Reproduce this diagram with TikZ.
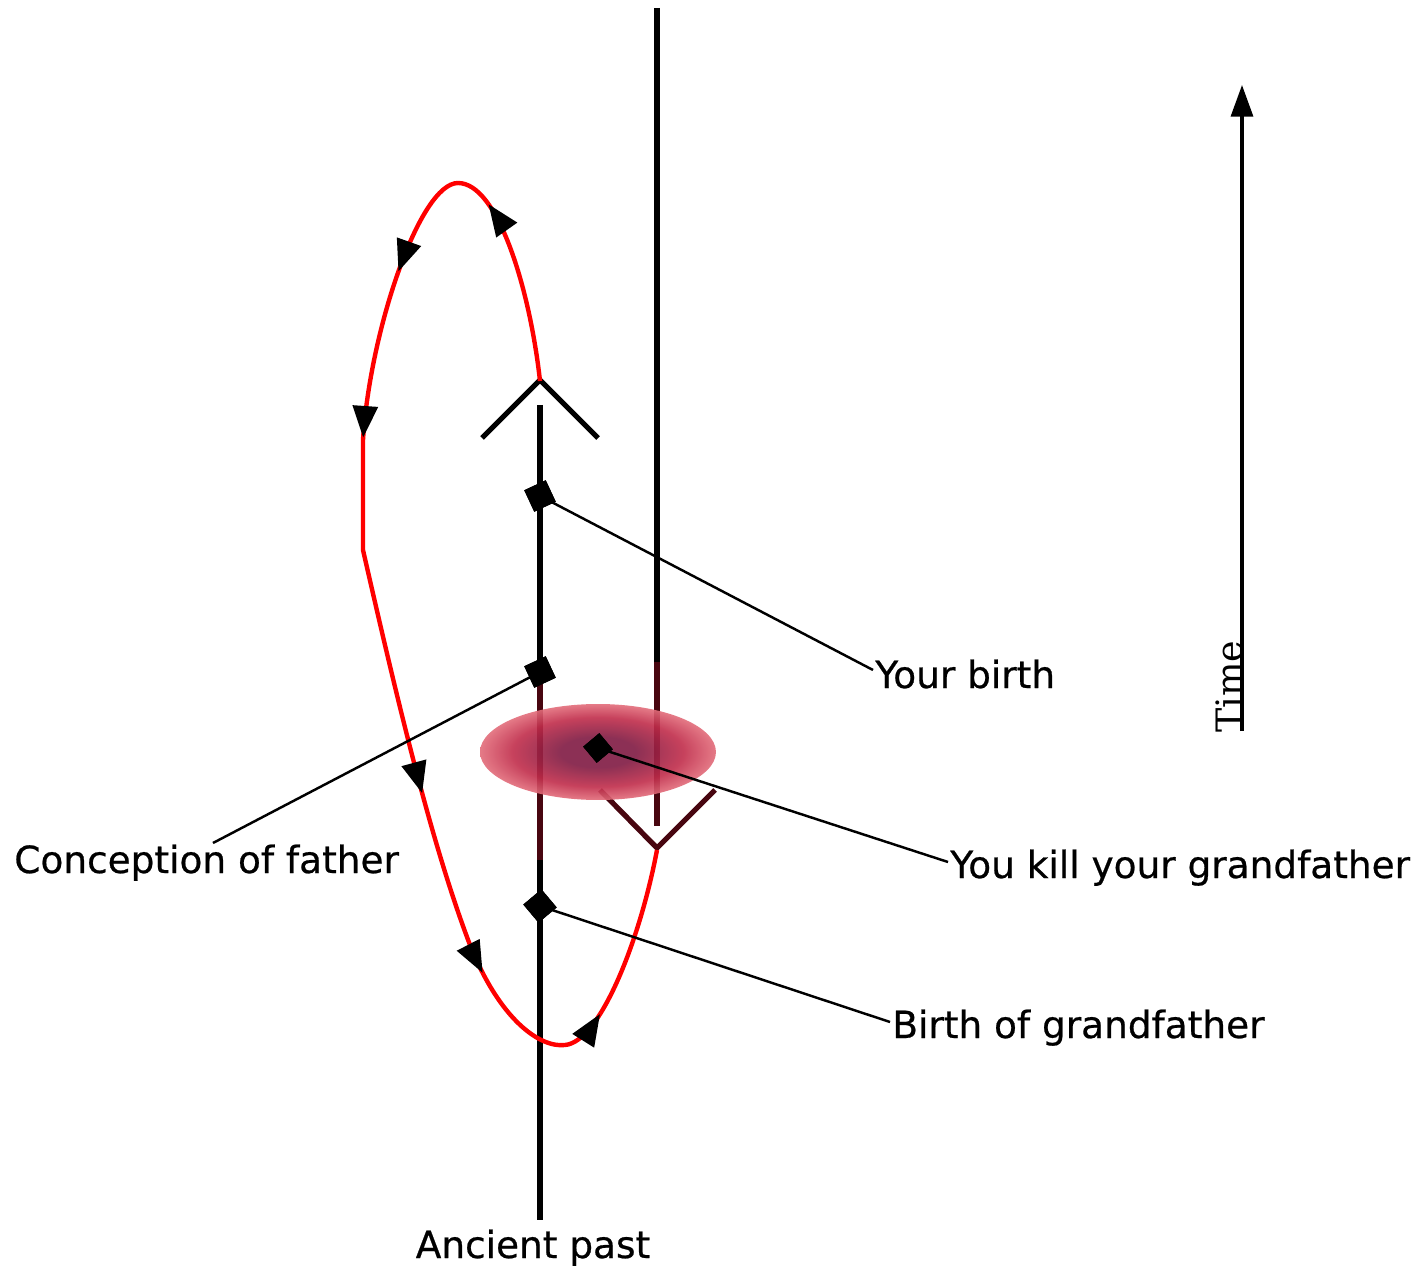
\documentclass[tikz,border=0pt]{standalone}
\usepackage{fontspec}
\setmainfont[BoldFont=DejaVu Sans, BoldFeatures={FakeBold=0.6}]{DejaVu Sans}
\newfontfamily\timefont{DejaVu Serif}
\usetikzlibrary{arrows.meta,decorations.markings}
\definecolor{blotin}{RGB}{128,26,66}
\definecolor{blotmid}{RGB}{192,44,74}
\definecolor{blotout}{RGB}{226,108,122}
\definecolor{darkwine}{RGB}{72,6,16}
\pgfdeclareradialshading{blot}{\pgfpoint{0bp}{0bp}}{color(0bp)=(blotin); color(8bp)=(blotin); color(18bp)=(blotmid); color(25bp)=(blotout); color(50bp)=(blotout)}
\tikzset{
  worldline/.style={line width=3pt, draw=black},
  chev/.style={line width=3pt, line join=miter, line cap=butt},
  loopline/.style={draw=red, line width=2.5pt},
  leader/.style={line width=1.4pt, draw=black},
  evt/.style={fill=black, draw=none, minimum size=13.5pt, inner sep=0pt, rotate=25},
  lbl/.style={font=\fontsize{21.3}{25}\selectfont\bfseries, inner sep=0pt},
  looptip/.tip={Triangle[length=18pt,width=14pt,color=black]}
}
\begin{document}
\begin{tikzpicture}[x=0.02cm, y=-0.02cm]
\path[use as bounding box] (0,0) rectangle (1421,1267);

% world lines
\coordinate (mtop) at (540,405);
\coordinate (mmid) at (540,672);
\coordinate (mlow) at (540,860);
\coordinate (mbot) at (540,1220);
\draw[worldline] (mtop) -- (mmid);
\draw[worldline, draw=darkwine] (mmid) -- (mlow);
\draw[worldline] (mlow) -- (mbot);

\coordinate (stop) at (657,8);
\coordinate (smid) at (657,662);
\coordinate (sbot) at (657,826);
\draw[worldline] (stop) -- (smid);
\draw[worldline, draw=darkwine] (smid) -- (sbot);

% chevrons
\coordinate (ua) at (540,380);
\coordinate (ul) at (482,438);
\coordinate (ur) at (598,438);
\draw[chev] (ul) -- (ua) -- (ur);
\coordinate (la) at (657,848);
\coordinate (ll) at (600,790);
\coordinate (lr) at (715,790);
\draw[chev, draw=darkwine] (ll) -- (la) -- (lr);

% red loop
\draw[loopline, postaction={decorate}, decoration={markings,
    mark=at position 0.133 with {\arrow{looptip}},
    mark=at position 0.24 with {\arrow{looptip}},
    mark=at position 0.362 with {\arrow{looptip}},
    mark=at position 0.622 with {\arrow{looptip}},
    mark=at position 0.758 with {\arrow{looptip}},
    mark=at position 0.875 with {\arrow{looptip}}}]
  (540,381) .. controls (530,290) and (498,183) .. (458,183)
  .. controls (420,183) and (370,330) .. (363,440)
  -- (363,550)
  .. controls (395,690) and (430,840) .. (470,945)
  .. controls (500,1020) and (540,1048) .. (565,1045)
  .. controls (600,1042) and (640,940) .. (657,850);

% blot
\shade[shading=blot, opacity=0.9] (598,752) ellipse [x radius=2.36cm, y radius=0.96cm];

% events
\node[evt] (yb) at (540,496) {};
\node[evt] (cf) at (540,672) {};
\node[evt, minimum size=12pt, rotate=15] (kg) at (598,748) {};
\node[evt, rotate=15] (bg) at (540,906) {};

% labels
\node[lbl, anchor=base west] (ybl) at (875,688) {Your birth};
\node[lbl, anchor=base west] (cfl) at (14,873) {Conception of father};
\node[lbl, anchor=base west] (kgl) at (950,878) {You kill your grandfather};
\node[lbl, anchor=base west] (bgl) at (892,1038) {Birth of grandfather};
\node[lbl, anchor=base] (apl) at (533,1258) {Ancient past};

\coordinate (ybe) at (873,670);
\coordinate (cfe) at (213,843);
\coordinate (kge) at (948,862);
\coordinate (bge) at (890,1022);
\draw[leader] (yb.center) -- (ybe);
\draw[leader] (cf.center) -- (cfe);
\draw[leader] (kg.center) -- (kge);
\draw[leader] (bg.center) -- (bge);
\node[evt] at (yb) {};
\node[evt] at (cf) {};
\node[evt, minimum size=12pt, rotate=15] at (kg) {};
\node[evt, rotate=15] at (bg) {};

% time axis
\node[lbl, font=\timefont\fontsize{20.7}{24}\selectfont, rotate=90, anchor=base west] (tl) at (1242,733) {Time};
\coordinate (tb) at (1242,731);
\coordinate (tt) at (1242,85);
\draw[line width=1.9pt, -{Triangle[length=18pt,width=12.5pt]}] (tb) -- (tt);
\end{tikzpicture}
\end{document}
